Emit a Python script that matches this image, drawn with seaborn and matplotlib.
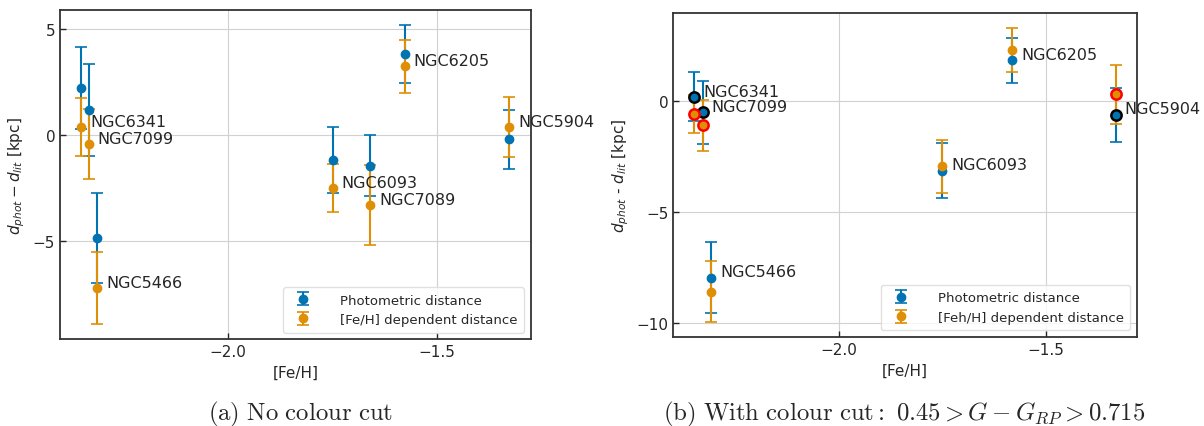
import matplotlib
matplotlib.use("Agg")
import matplotlib.pyplot as plt
import seaborn as sns
import numpy as np
import pandas as pd

# ---- Data -------------------------------------------####

# (a) no colour cut
names_a = ['NGC6341', 'NGC7099', 'NGC5466', 'NGC6093', 'NGC7089', 'NGC6205', 'NGC5904']
feh_a = [-2.349, -2.331, -2.311, -1.749, -1.659, -1.577, -1.327]
phot_a = [2.22, 1.20, -4.87, -1.17, -1.44, 3.85, -0.19]
phot_err_a = [1.93, 2.19, 2.12, 1.54, 1.45, 1.36, 1.39]
fehd_a = [0.39, -0.41, -7.21, -2.49, -3.28, 3.25, 0.39]
fehd_err_a = [1.37, 1.67, 1.72, 1.13, 1.89, 1.27, 1.42]

# (b) with colour cut
names_b = ['NGC6341', 'NGC7099', 'NGC5466', 'NGC6093', 'NGC6205', 'NGC5904']
feh_b = [-2.350, -2.329, -2.309, -1.750, -1.581, -1.331]
phot_b = [0.19, -0.51, -7.95, -3.13, 1.83, -0.61]
phot_err_b = [1.10, 1.40, 1.60, 1.23, 1.00, 1.22]
fehd_b = [-0.57, -1.09, -8.58, -2.94, 2.29, 0.30]
fehd_err_b = [0.85, 1.14, 1.38, 1.19, 1.00, 1.31]
highlight_b = [True, True, False, False, False, True]

captions = [r'$\mathrm{(a)\ No\ colour\ cut}$',
            r'$\mathrm{(b)\ With\ colour\ cut{:}\ }0.45 > G - G_{RP} > 0.715$']


# ---- Plot -------------------------------------------####

sns.set_style('ticks', {'axes.grid': True, 'grid.color': '.82', 'axes.edgecolor': '.2',
                        'xtick.direction': 'in', 'ytick.direction': 'in'})
plt.rcParams['font.family'] = ['DejaVu Sans']
plt.rcParams['mathtext.fontset'] = 'dejavusans'
pal = sns.color_palette('colorblind')
blue, orange = pal[0], pal[1]

W, H = 1204, 427
fig = plt.figure(figsize=(W / 100, H / 100), dpi=100)
ax_a = fig.add_axes([60 / W, (H - 340.3) / H, 470.7 / W, 329.3 / H])
ax_b = fig.add_axes([673.3 / W, (H - 338) / H, 463.4 / W, 323.7 / H])


def draw_panel(ax, names, feh, phot, phot_err, fehd, fehd_err, label_y, fehd_label):
    ax.errorbar(feh, phot, yerr=phot_err, fmt='o', color=blue, ms=6, capsize=4.5,
                elinewidth=1.5, capthick=1.2, label='Photometric distance')
    ax.errorbar(feh, fehd, yerr=fehd_err, fmt='o', color=orange, ms=6, capsize=4.5,
                elinewidth=1.5, capthick=1.2, label=fehd_label)
    for n, x, y in zip(names, feh, label_y):
        ax.text(x + 0.021, y + 0.26, n, va='center', fontsize=11.5)
    ax.tick_params(labelsize=11, length=4, width=1)
    for s in ax.spines.values():
        s.set_linewidth(1.3)
    leg = ax.legend(loc='lower right', fontsize=9.5, frameon=True, handletextpad=1.8,
                    borderpad=0.5)
    leg.get_frame().set_edgecolor('.85')
    ax.set_xticks([-2.0, -1.5])
    ax.set_xlabel('[Fe/H]', fontsize=11)


draw_panel(ax_a, names_a, feh_a, phot_a, phot_err_a, fehd_a, fehd_err_a, fehd_a,
           '[Fe/H] dependent distance')
ax_a.set_yticks([-5, 0, 5])
ax_a.set_ylabel(r'$d_{phot} - d_{lit}$ [kpc]', fontsize=11)

draw_panel(ax_b, names_b, feh_b, phot_b, phot_err_b, fehd_b, fehd_err_b, phot_b,
           '[Feh/H] dependent distance')
ax_b.set_yticks([-10, -5, 0])

# highlighted clusters in panel b
hl = pd.DataFrame({'feh': feh_b, 'phot': phot_b, 'fehd': fehd_b, 'hl': highlight_b})
hl = hl[hl['hl']]
sns.scatterplot(data=hl, x='feh', y='phot', ax=ax_b, color=blue, s=55, edgecolor='black',
                linewidth=1.8, zorder=5, legend=False)
sns.scatterplot(data=hl, x='feh', y='fehd', ax=ax_b, color=orange, s=55, edgecolor='red',
                linewidth=1.8, zorder=5, legend=False)
ax_b.set_xlabel('[Fe/H]', fontsize=11)
ax_b.set_ylabel(r'$d_{phot}$ - $d_{lit}$ [kpc]', fontsize=11)

fig.text(300.5 / W, 1 - 414 / H, captions[0], ha='center', va='center', fontsize=17.8,
         math_fontfamily='cm')
fig.text(904.5 / W, 1 - 414 / H, captions[1], ha='center', va='center', fontsize=17.8,
         math_fontfamily='cm')

fig.savefig('out.png', dpi=100)
